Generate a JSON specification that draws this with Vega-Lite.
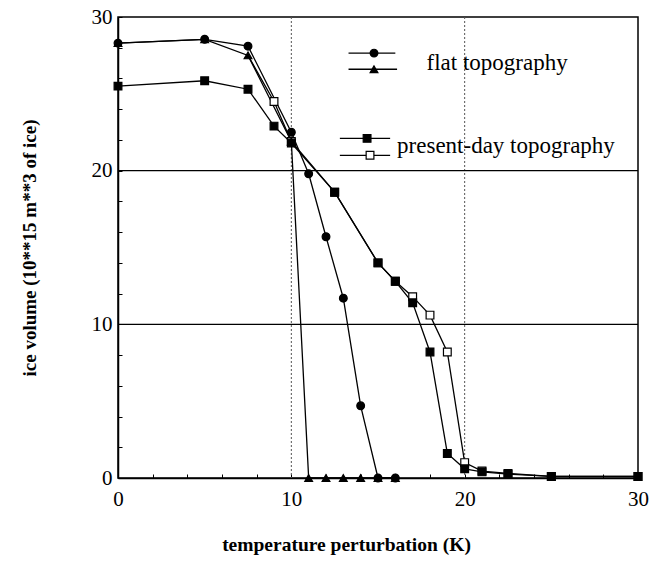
{
  "$schema": "https://vega.github.io/schema/vega-lite/v6.json",
  "width": 520,
  "height": 461,
  "autosize": {"type": "none"},
  "padding": {"left": 118, "top": 17, "right": 15, "bottom": 83},
  "background": "white",
  "config": {
    "view": {"stroke": "black", "strokeWidth": 1.5},
    "font": "Liberation Serif",
    "axis": {
      "tickCount": 15,
      "labelExpr": "datum.value % 10 === 0 ? datum.label : ''",
      "grid": false,
      "tickSize": -4,
      "tickColor": "black",
      "domainColor": "black",
      "domainWidth": 1.5,
      "labelFont": "Liberation Serif",
      "labelFontSize": 21,
      "labelColor": "black",
      "labelFlush": false,
      "labelOverlap": false,
      "titleFont": "Liberation Serif",
      "titleFontWeight": "bold",
      "titleColor": "black"
    },
    "axisX": {"labelPadding": 14, "titleFontSize": 19.5, "titlePadding": 26, "titleX": 228},
    "axisY": {"labelPadding": 10, "titleFontSize": 19, "titlePadding": 52}
  },
  "datasets": {
    "series": [
      {"series": "pd2", "x": 7.5, "y": 27.5},
      {"series": "pd2", "x": 9, "y": 24.5},
      {"series": "pd2", "x": 10, "y": 21.9},
      {"series": "pd2", "x": 12.5, "y": 18.6},
      {"series": "pd2", "x": 15, "y": 14.0},
      {"series": "pd2", "x": 16, "y": 12.8},
      {"series": "pd2", "x": 17, "y": 11.8},
      {"series": "pd2", "x": 18, "y": 10.6},
      {"series": "pd2", "x": 19, "y": 8.2},
      {"series": "pd2", "x": 20, "y": 1.0},
      {"series": "pd2", "x": 21, "y": 0.45},
      {"series": "pd2", "x": 22.5, "y": 0.3},
      {"series": "pd2", "x": 25, "y": 0.1},
      {"series": "pd2", "x": 30, "y": 0.1},
      {"series": "flat2", "x": 0, "y": 28.3},
      {"series": "flat2", "x": 5, "y": 28.55},
      {"series": "flat2", "x": 7.5, "y": 27.5},
      {"series": "flat2", "x": 10, "y": 21.9},
      {"series": "flat2", "x": 11, "y": 0},
      {"series": "flat2", "x": 12, "y": 0},
      {"series": "flat2", "x": 13, "y": 0},
      {"series": "flat2", "x": 14, "y": 0},
      {"series": "flat2", "x": 15, "y": 0},
      {"series": "flat2", "x": 16, "y": 0},
      {"series": "flat1", "x": 0, "y": 28.3},
      {"series": "flat1", "x": 5, "y": 28.55},
      {"series": "flat1", "x": 7.5, "y": 28.1},
      {"series": "flat1", "x": 10, "y": 22.5},
      {"series": "flat1", "x": 11, "y": 19.8},
      {"series": "flat1", "x": 12, "y": 15.7},
      {"series": "flat1", "x": 13, "y": 11.7},
      {"series": "flat1", "x": 14, "y": 4.7},
      {"series": "flat1", "x": 15, "y": 0},
      {"series": "flat1", "x": 16, "y": 0},
      {"series": "pd1", "x": 0, "y": 25.5},
      {"series": "pd1", "x": 5, "y": 25.85},
      {"series": "pd1", "x": 7.5, "y": 25.3},
      {"series": "pd1", "x": 9, "y": 22.9},
      {"series": "pd1", "x": 10, "y": 21.8},
      {"series": "pd1", "x": 12.5, "y": 18.6},
      {"series": "pd1", "x": 15, "y": 14.0},
      {"series": "pd1", "x": 16, "y": 12.8},
      {"series": "pd1", "x": 17, "y": 11.4},
      {"series": "pd1", "x": 18, "y": 8.2},
      {"series": "pd1", "x": 19, "y": 1.6},
      {"series": "pd1", "x": 20, "y": 0.6},
      {"series": "pd1", "x": 21, "y": 0.4},
      {"series": "pd1", "x": 22.5, "y": 0.25},
      {"series": "pd1", "x": 25, "y": 0.1},
      {"series": "pd1", "x": 30, "y": 0.1}
    ],
    "hgrid": [{"y": 10}, {"y": 20}],
    "vgrid": [{"x": 10}, {"x": 20}],
    "legendLines": [
      {"series": "flat1", "x": 13.3, "y": 27.65},
      {"series": "flat1", "x": 16.0, "y": 27.65},
      {"series": "flat2", "x": 13.3, "y": 26.6},
      {"series": "flat2", "x": 16.1, "y": 26.6},
      {"series": "pd1", "x": 12.8, "y": 22.1},
      {"series": "pd1", "x": 15.7, "y": 22.1},
      {"series": "pd2", "x": 12.8, "y": 21.0},
      {"series": "pd2", "x": 15.7, "y": 21.0}
    ],
    "legendMarks": [
      {"series": "flat1", "x": 14.77, "y": 27.65},
      {"series": "flat2", "x": 14.77, "y": 26.6},
      {"series": "pd1", "x": 14.37, "y": 22.1},
      {"series": "pd2", "x": 14.54, "y": 21.0}
    ],
    "legendText": [
      {"label": "flat topography", "x": 17.8, "y": 27.0},
      {"label": "present-day topography", "x": 16.1, "y": 21.6}
    ]
  },
  "layer": [
    {
      "data": {"name": "vgrid"},
      "mark": {"type": "rule", "stroke": "#555", "strokeWidth": 1, "strokeDash": [2, 2]},
      "encoding": {
        "x": {"field": "x", "type": "quantitative", "title": "temperature perturbation (K)", "scale": {"domain": [0, 30], "nice": false, "zero": false}}
      }
    },
    {
      "data": {"name": "hgrid"},
      "mark": {"type": "rule", "stroke": "black", "strokeWidth": 1.3},
      "encoding": {
        "y": {"field": "y", "type": "quantitative", "title": "ice volume (10**15 m**3 of ice)", "scale": {"domain": [0, 30], "nice": false}}
      }
    },
    {
      "data": {"name": "series"},
      "mark": {"type": "line", "stroke": "black", "strokeWidth": 1.3},
      "encoding": {
        "x": {"field": "x", "type": "quantitative", "title": "temperature perturbation (K)"},
        "y": {"field": "y", "type": "quantitative", "title": "ice volume (10**15 m**3 of ice)"},
        "detail": {"field": "series", "type": "nominal"}
      }
    },
    {
      "data": {"name": "series"},
      "transform": [{"filter": "datum.series !== 'pd2' || datum.x >= 9"}],
      "mark": {"type": "point", "stroke": "black", "strokeWidth": 1.2, "opacity": 1, "size": 60},
      "encoding": {
        "x": {"field": "x", "type": "quantitative", "title": "temperature perturbation (K)"},
        "y": {"field": "y", "type": "quantitative", "title": "ice volume (10**15 m**3 of ice)"},
        "shape": {
          "field": "series", "type": "nominal", "legend": null,
          "scale": {"domain": ["flat1", "flat2", "pd1", "pd2"], "range": ["circle", "triangle-up", "square", "square"]}
        },
        "fill": {
          "field": "series", "type": "nominal", "legend": null,
          "scale": {"domain": ["flat1", "flat2", "pd1", "pd2"], "range": ["black", "black", "black", "white"]}
        }
      }
    },
    {
      "data": {"name": "legendLines"},
      "mark": {"type": "line", "stroke": "black", "strokeWidth": 1.3},
      "encoding": {
        "x": {"field": "x", "type": "quantitative", "title": "temperature perturbation (K)"},
        "y": {"field": "y", "type": "quantitative", "title": "ice volume (10**15 m**3 of ice)"},
        "detail": {"field": "series", "type": "nominal"}
      }
    },
    {
      "data": {"name": "legendMarks"},
      "mark": {"type": "point", "stroke": "black", "strokeWidth": 1.2, "opacity": 1, "size": 60},
      "encoding": {
        "x": {"field": "x", "type": "quantitative", "title": "temperature perturbation (K)"},
        "y": {"field": "y", "type": "quantitative", "title": "ice volume (10**15 m**3 of ice)"},
        "shape": {"field": "series", "type": "nominal", "legend": null},
        "fill": {"field": "series", "type": "nominal", "legend": null}
      }
    },
    {
      "data": {"name": "legendText"},
      "mark": {"type": "text", "align": "left", "baseline": "middle", "font": "Liberation Serif", "fontSize": 23, "color": "black"},
      "encoding": {
        "x": {"field": "x", "type": "quantitative", "title": "temperature perturbation (K)"},
        "y": {"field": "y", "type": "quantitative", "title": "ice volume (10**15 m**3 of ice)"},
        "text": {"field": "label", "type": "nominal"}
      }
    }
  ]
}
